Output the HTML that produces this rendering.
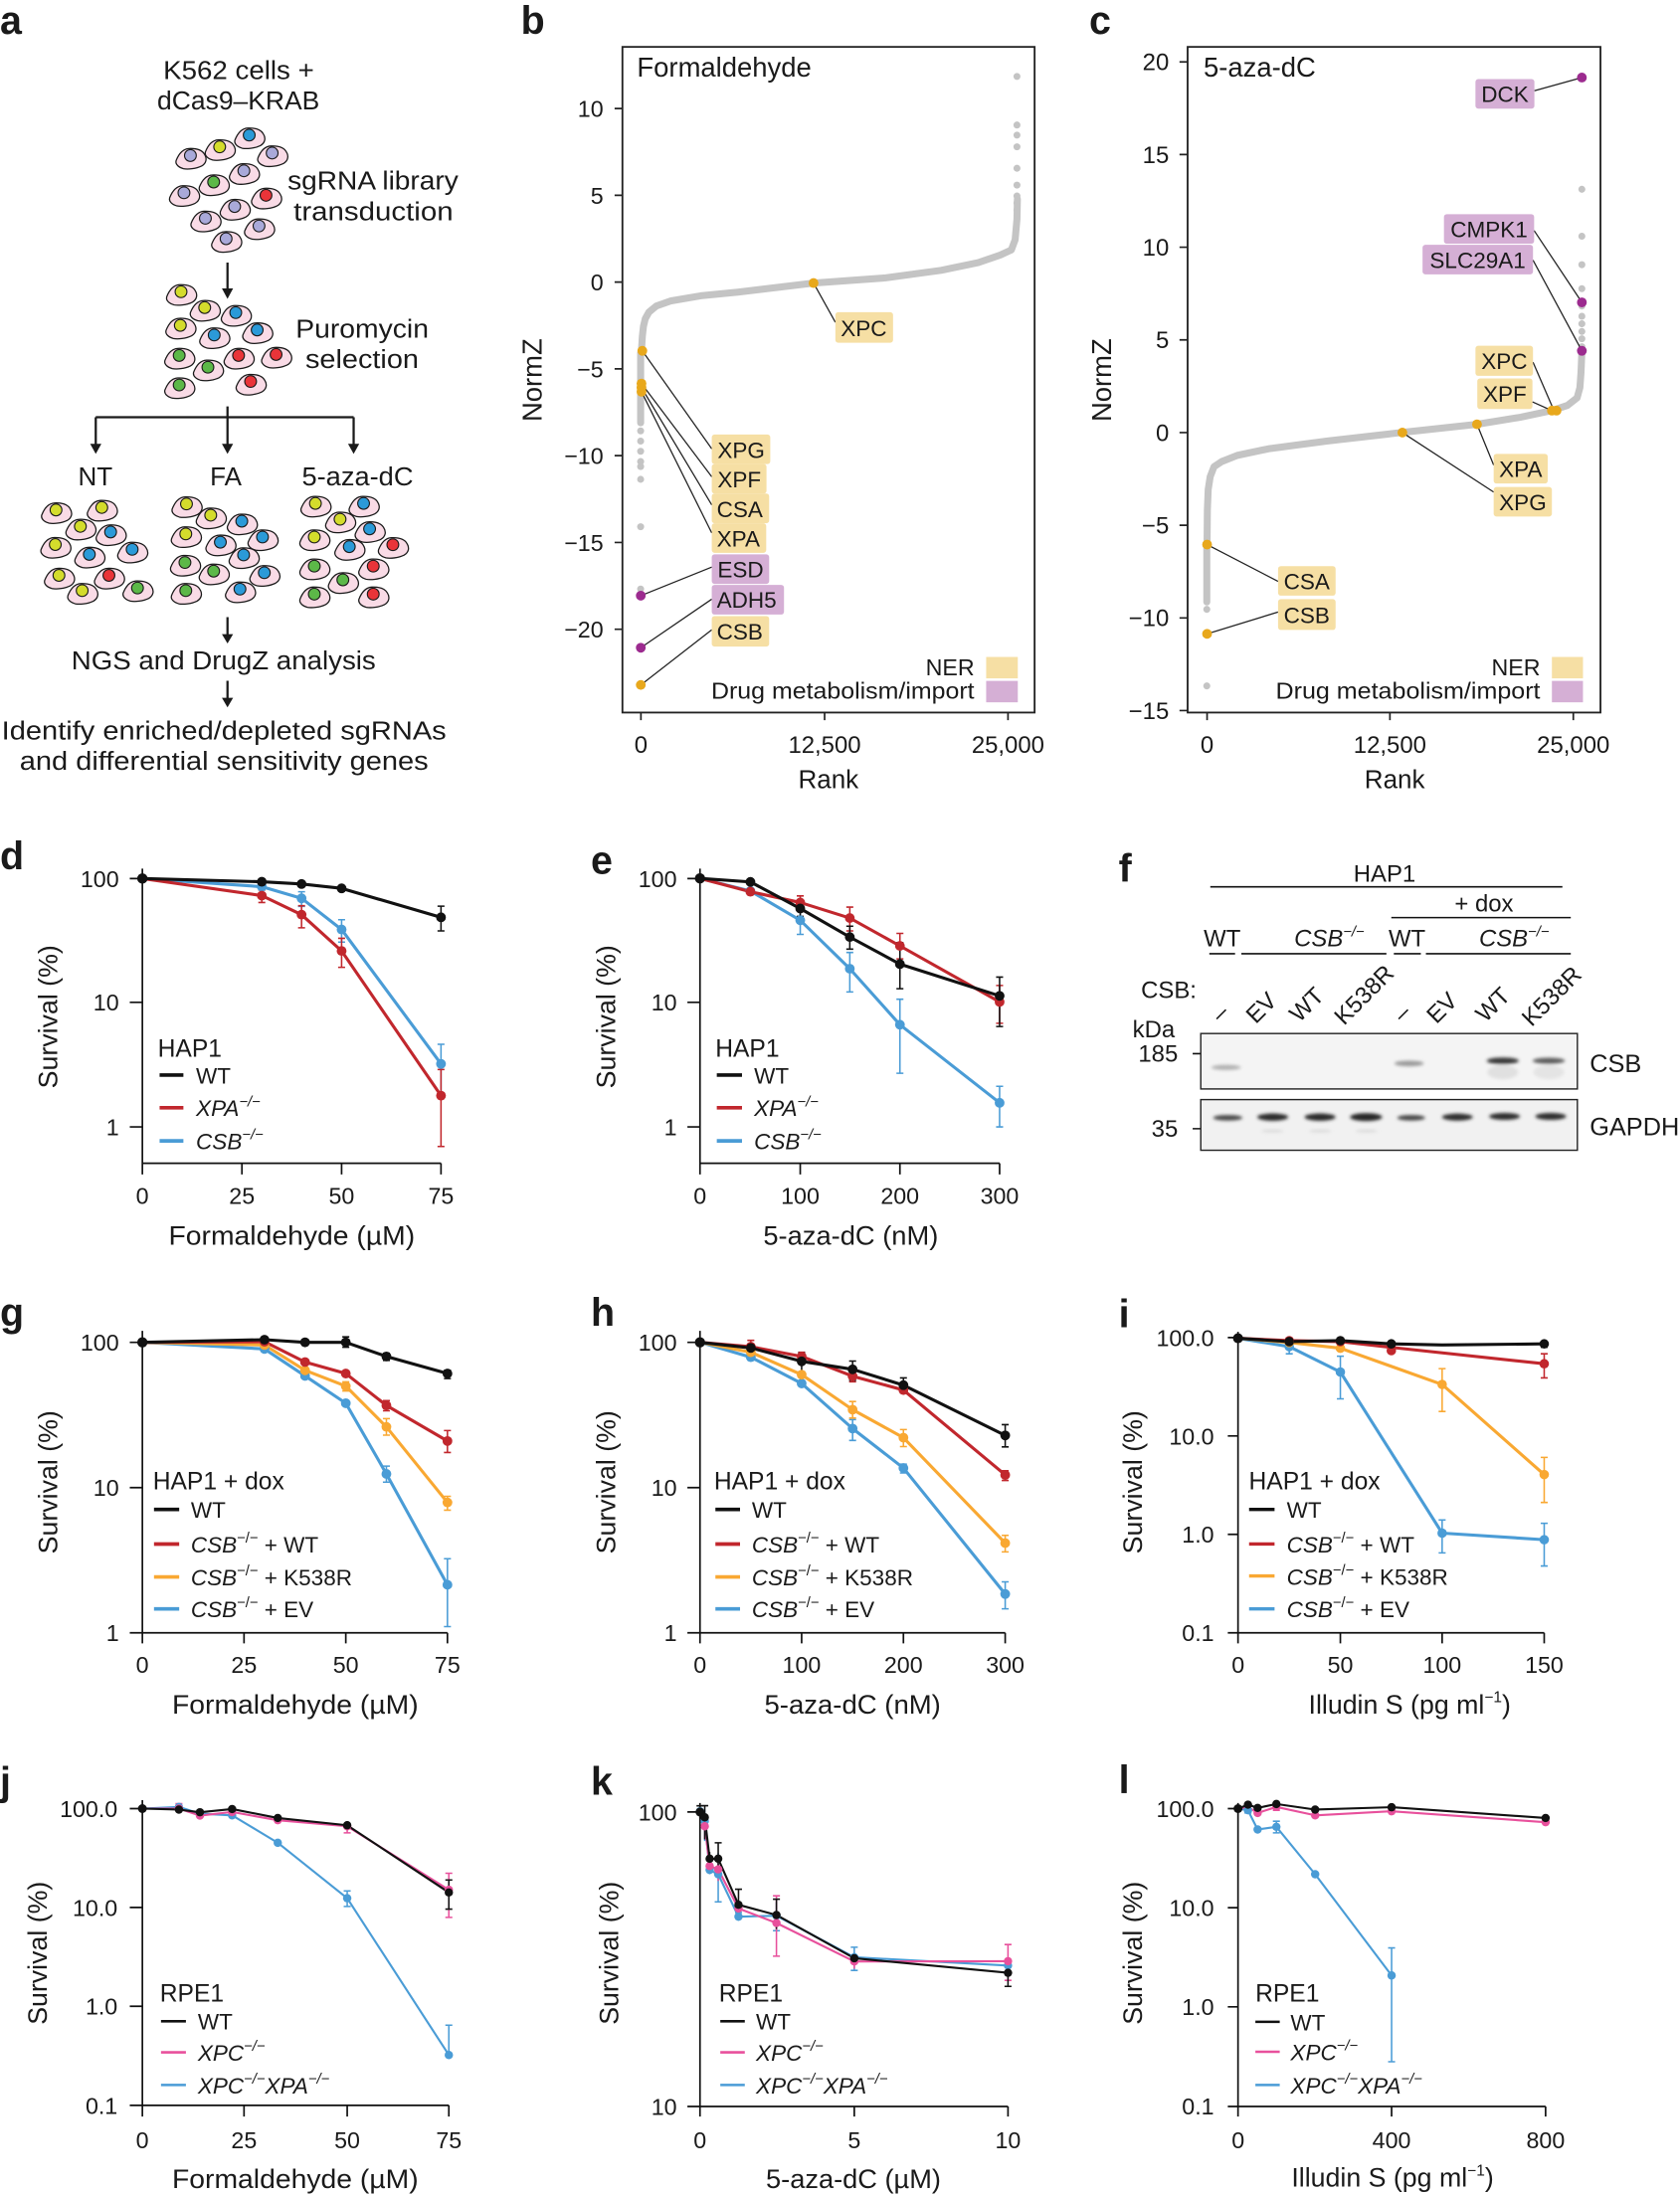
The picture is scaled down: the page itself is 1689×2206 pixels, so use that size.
<!DOCTYPE html>
<html><head><meta charset="utf-8"><style>
html,body{margin:0;padding:0;background:#fff;}
svg{display:block;}
text{font-family:"Liberation Sans",Arial,sans-serif;fill:#1a1a1a;}
.lb{font-weight:bold;font-size:28px;}
.tk{font-size:16.5px;}
.ax{font-size:19px;}
.lg{font-size:16px;}
.lt{font-size:17.5px;}
.it{font-style:italic;}
</style></head><body>
<svg width="1689" height="2206" viewBox="0 0 1200 1567.3" xmlns="http://www.w3.org/2000/svg">
<defs>
<path id="cb" d="M -10.2,3.6 C -8,-2 -5,-4.8 -1,-5 C 4,-5.2 8,-4.5 10,-1 C 12,2 11.5,5.5 8,7.5 C 4,9.5 -2,10 -5,9.4 C -8,8.6 -11,6.5 -10.2,3.6 Z" fill="#f9dbe6" stroke="#1a1a1a" stroke-width="0.9"/>
<filter id="bl" x="-50%" y="-200%" width="200%" height="500%"><feGaussianBlur stdDeviation="1.2"/></filter>
</defs>
<rect width="1200" height="1567.3" fill="#fff"/>

<!-- panel letters -->
<text class="lb" x="0" y="24">a</text>
<text class="lb" x="372" y="24">b</text>
<text class="lb" x="778" y="24">c</text>
<text class="lb" x="0" y="621">d</text>
<text class="lb" x="422" y="624">e</text>
<text class="lb" x="799" y="630">f</text>
<text class="lb" x="0" y="947">g</text>
<text class="lb" x="422" y="947">h</text>
<text class="lb" x="799" y="948">i</text>
<text class="lb" x="0" y="1282">j</text>
<text class="lb" x="422" y="1282">k</text>
<text class="lb" x="799" y="1281">l</text>

<!-- ================= PANEL A ================= -->
<g font-size="18.5">
<text x="170.5" y="56.5" text-anchor="middle" textLength="107.7" lengthAdjust="spacingAndGlyphs">K562 cells +</text>
<text x="170.3" y="78.3" text-anchor="middle" textLength="116" lengthAdjust="spacingAndGlyphs">dCas9–KRAB</text>
<text x="205.4" y="135.5" textLength="122" lengthAdjust="spacingAndGlyphs">sgRNA library</text>
<text x="209.7" y="157.4" textLength="114" lengthAdjust="spacingAndGlyphs">transduction</text>
<text x="211.2" y="241.2" textLength="95" lengthAdjust="spacingAndGlyphs">Puromycin</text>
<text x="218.1" y="263" textLength="81" lengthAdjust="spacingAndGlyphs">selection</text>
<text x="68.1" y="346.8" text-anchor="middle">NT</text>
<text x="161.3" y="346.8" text-anchor="middle">FA</text>
<text x="255.4" y="346.8" text-anchor="middle" textLength="79.6" lengthAdjust="spacingAndGlyphs">5-aza-dC</text>
<text x="159.7" y="478" text-anchor="middle" textLength="217.4" lengthAdjust="spacingAndGlyphs">NGS and DrugZ analysis</text>
<text x="160" y="528.2" text-anchor="middle" textLength="317.6" lengthAdjust="spacingAndGlyphs">Identify enriched/depleted sgRNAs</text>
<text x="160" y="550" text-anchor="middle" textLength="292" lengthAdjust="spacingAndGlyphs">and differential sensitivity genes</text>
</g>
<g stroke="#1a1a1a" stroke-width="1.6" fill="none">
<path d="M162.5 187.6 V207 M162.5 290.3 V298 M68.4 298 H252.6 M68.4 298 V318 M162.5 298 V318 M252.6 298 V318 M162.5 440.8 V454 M162.5 486.3 V499.5"/>
</g>
<g fill="#1a1a1a">
<path d="M158.5 206 H166.5 L162.5 213.5 Z"/>
<path d="M64.4 317 H72.4 L68.4 324.2 Z"/>
<path d="M158.5 317 H166.5 L162.5 324.2 Z"/>
<path d="M248.6 317 H256.6 L252.6 324.2 Z"/>
<path d="M158.5 453 H166.5 L162.5 459.7 Z"/>
<path d="M158.5 498.5 H166.5 L162.5 505.3 Z"/>
</g>
<g stroke="#1a1a1a" stroke-width="0.8">
<!-- cluster 1 -->
<use href="#cb" x="178" y="96.5"/><circle cx="178" cy="96.5" r="4.2" fill="#2b9ad8"/>
<use href="#cb" x="156.9" y="104.9"/><circle cx="156.9" cy="104.9" r="4.2" fill="#d4dc2c"/>
<use href="#cb" x="136" y="111.1"/><circle cx="136" cy="111.1" r="4.2" fill="#a9a9d9"/>
<use href="#cb" x="194.4" y="109.3"/><circle cx="194.4" cy="109.3" r="4.2" fill="#a9a9d9"/>
<use href="#cb" x="174.2" y="122"/><circle cx="174.2" cy="122" r="4.2" fill="#a9a9d9"/>
<use href="#cb" x="152.6" y="130"/><circle cx="152.6" cy="130" r="4.2" fill="#5cb848"/>
<use href="#cb" x="131.4" y="137.7"/><circle cx="131.4" cy="137.7" r="4.2" fill="#a9a9d9"/>
<use href="#cb" x="190" y="139.5"/><circle cx="190" cy="139.5" r="4.2" fill="#e93439"/>
<use href="#cb" x="167.6" y="147.5"/><circle cx="167.6" cy="147.5" r="4.2" fill="#a9a9d9"/>
<use href="#cb" x="146.7" y="155.9"/><circle cx="146.7" cy="155.9" r="4.2" fill="#a9a9d9"/>
<use href="#cb" x="185" y="161.4"/><circle cx="185" cy="161.4" r="4.2" fill="#a9a9d9"/>
<use href="#cb" x="161.5" y="170.5"/><circle cx="161.5" cy="170.5" r="4.2" fill="#a9a9d9"/>
<!-- cluster 2 -->
<use href="#cb" x="129.3" y="208.4"/><circle cx="129.3" cy="208.4" r="4.2" fill="#d4dc2c"/>
<use href="#cb" x="146.2" y="219.7"/><circle cx="146.2" cy="219.7" r="4.2" fill="#d4dc2c"/>
<use href="#cb" x="168.4" y="223.3"/><circle cx="168.4" cy="223.3" r="4.2" fill="#2b9ad8"/>
<use href="#cb" x="128.8" y="232.4"/><circle cx="128.8" cy="232.4" r="4.2" fill="#d4dc2c"/>
<use href="#cb" x="153" y="239.3"/><circle cx="153" cy="239.3" r="4.2" fill="#2b9ad8"/>
<use href="#cb" x="183.7" y="235.7"/><circle cx="183.7" cy="235.7" r="4.2" fill="#2b9ad8"/>
<use href="#cb" x="128" y="253.9"/><circle cx="128" cy="253.9" r="4.2" fill="#5cb848"/>
<use href="#cb" x="170.4" y="253.9"/><circle cx="170.4" cy="253.9" r="4.2" fill="#e93439"/>
<use href="#cb" x="197.2" y="253.2"/><circle cx="197.2" cy="253.2" r="4.2" fill="#e93439"/>
<use href="#cb" x="148.5" y="262.3"/><circle cx="148.5" cy="262.3" r="4.2" fill="#5cb848"/>
<use href="#cb" x="128" y="275"/><circle cx="128" cy="275" r="4.2" fill="#5cb848"/>
<use href="#cb" x="179" y="272.5"/><circle cx="179" cy="272.5" r="4.2" fill="#e93439"/>
<!-- NT -->
<use href="#cb" x="40" y="364.3"/><circle cx="40" cy="364.3" r="4.2" fill="#d4dc2c"/>
<use href="#cb" x="72.7" y="362.5"/><circle cx="72.7" cy="362.5" r="4.2" fill="#d4dc2c"/>
<use href="#cb" x="57.4" y="376"/><circle cx="57.4" cy="376" r="4.2" fill="#d4dc2c"/>
<use href="#cb" x="79" y="380"/><circle cx="79" cy="380" r="4.2" fill="#2b9ad8"/>
<use href="#cb" x="39.5" y="389"/><circle cx="39.5" cy="389" r="4.2" fill="#d4dc2c"/>
<use href="#cb" x="63.8" y="396"/><circle cx="63.8" cy="396" r="4.2" fill="#2b9ad8"/>
<use href="#cb" x="94.4" y="392.4"/><circle cx="94.4" cy="392.4" r="4.2" fill="#2b9ad8"/>
<use href="#cb" x="42.1" y="411"/><circle cx="42.1" cy="411" r="4.2" fill="#d4dc2c"/>
<use href="#cb" x="77.8" y="411"/><circle cx="77.8" cy="411" r="4.2" fill="#e93439"/>
<use href="#cb" x="58.7" y="421.9"/><circle cx="58.7" cy="421.9" r="4.2" fill="#d4dc2c"/>
<use href="#cb" x="98.2" y="420"/><circle cx="98.2" cy="420" r="4.2" fill="#5cb848"/>
<!-- FA -->
<use href="#cb" x="133.2" y="360"/><circle cx="133.2" cy="360" r="4.2" fill="#d4dc2c"/>
<use href="#cb" x="150.5" y="368"/><circle cx="150.5" cy="368" r="4.2" fill="#d4dc2c"/>
<use href="#cb" x="172.7" y="372.3"/><circle cx="172.7" cy="372.3" r="4.2" fill="#2b9ad8"/>
<use href="#cb" x="132.7" y="381.4"/><circle cx="132.7" cy="381.4" r="4.2" fill="#d4dc2c"/>
<use href="#cb" x="157.4" y="387.3"/><circle cx="157.4" cy="387.3" r="4.2" fill="#2b9ad8"/>
<use href="#cb" x="187.5" y="383.6"/><circle cx="187.5" cy="383.6" r="4.2" fill="#2b9ad8"/>
<use href="#cb" x="174" y="396.4"/><circle cx="174" cy="396.4" r="4.2" fill="#2b9ad8"/>
<use href="#cb" x="132.1" y="401.8"/><circle cx="132.1" cy="401.8" r="4.2" fill="#5cb848"/>
<use href="#cb" x="152.6" y="408"/><circle cx="152.6" cy="408" r="4.2" fill="#5cb848"/>
<use href="#cb" x="188.8" y="409.1"/><circle cx="188.8" cy="409.1" r="4.2" fill="#2b9ad8"/>
<use href="#cb" x="132.7" y="421.9"/><circle cx="132.7" cy="421.9" r="4.2" fill="#5cb848"/>
<use href="#cb" x="171.4" y="420.8"/><circle cx="171.4" cy="420.8" r="4.2" fill="#2b9ad8"/>
<!-- 5-aza-dC -->
<use href="#cb" x="225.3" y="359.6"/><circle cx="225.3" cy="359.6" r="4.2" fill="#d4dc2c"/>
<use href="#cb" x="259.7" y="359.6"/><circle cx="259.7" cy="359.6" r="4.2" fill="#2b9ad8"/>
<use href="#cb" x="242.9" y="370.9"/><circle cx="242.9" cy="370.9" r="4.2" fill="#d4dc2c"/>
<use href="#cb" x="264" y="377.8"/><circle cx="264" cy="377.8" r="4.2" fill="#2b9ad8"/>
<use href="#cb" x="224.5" y="383.6"/><circle cx="224.5" cy="383.6" r="4.2" fill="#d4dc2c"/>
<use href="#cb" x="249.5" y="390.5"/><circle cx="249.5" cy="390.5" r="4.2" fill="#2b9ad8"/>
<use href="#cb" x="280.6" y="389.1"/><circle cx="280.6" cy="389.1" r="4.2" fill="#e93439"/>
<use href="#cb" x="224.5" y="404.4"/><circle cx="224.5" cy="404.4" r="4.2" fill="#5cb848"/>
<use href="#cb" x="266.6" y="404.4"/><circle cx="266.6" cy="404.4" r="4.2" fill="#e93439"/>
<use href="#cb" x="244.9" y="414.2"/><circle cx="244.9" cy="414.2" r="4.2" fill="#5cb848"/>
<use href="#cb" x="224.5" y="424.4"/><circle cx="224.5" cy="424.4" r="4.2" fill="#5cb848"/>
<use href="#cb" x="266.6" y="424.4"/><circle cx="266.6" cy="424.4" r="4.2" fill="#e93439"/>
</g>

<!-- ================= PANEL B ================= -->
<rect x="444.6" y="33.5" width="294.4" height="475.5" fill="none" stroke="#222" stroke-width="1.3"/>
<path d="M439 77.5H444.6M439 139.5H444.6M439 201.5H444.6M439 263.5H444.6M439 325.5H444.6M439 387.5H444.6M439 449.5H444.6M457.8 509V514.5M589 509V514.5M720 509V514.5" stroke="#222" stroke-width="1.2"/>
<g class="tk" text-anchor="end" font-size="17">
<text x="431" y="83.5">10</text><text x="431" y="145.5">5</text><text x="431" y="207.5">0</text>
<text x="431" y="269.5">−5</text><text x="431" y="331.5">−10</text><text x="431" y="393.5">−15</text><text x="431" y="455.5">−20</text>
</g>
<g text-anchor="middle" font-size="17">
<text x="457.8" y="538">0</text><text x="589" y="538">12,500</text><text x="720" y="538">25,000</text>
</g>
<text x="591.7" y="563" text-anchor="middle" font-size="18.5">Rank</text>
<text transform="translate(387,271.5) rotate(-90)" text-anchor="middle" font-size="19.5">NormZ</text>
<text x="455" y="54.6" font-size="19.5">Formaldehyde</text>
<polyline points="458.2,250.6 458.8,240.4 459.6,233.2 460.9,227.7 463.5,223 468.8,218.6 479.4,214.9 500.5,211.3 527,208.7 581.1,202.2 632.6,198.5 672.2,193.1 698.7,187.6 714.5,182.2 722.4,178.5 725.1,171.2 726.4,156.6 726.7,142.1" fill="none" stroke="#c4c4c4" stroke-width="5" stroke-linecap="round" stroke-linejoin="round"/>
<line x1="457.6" y1="252" x2="457.6" y2="302" stroke="#c4c4c4" stroke-width="5" stroke-linecap="round"/>
<g fill="#c4c4c4">
<circle cx="457.6" cy="307.8" r="2.5"/><circle cx="457.6" cy="315.1" r="2.5"/><circle cx="457.6" cy="322.4" r="2.5"/><circle cx="457.6" cy="329.7" r="2.5"/><circle cx="457.6" cy="333.3" r="2.5"/><circle cx="457.6" cy="342.4" r="2.5"/><circle cx="457.6" cy="376.3" r="2.5"/><circle cx="457.6" cy="420.8" r="2.5"/>
<circle cx="726.4" cy="54.6" r="2.5"/><circle cx="726.4" cy="89.3" r="2.5"/><circle cx="726.4" cy="96.5" r="2.5"/><circle cx="726.4" cy="104.9" r="2.5"/><circle cx="726.4" cy="120.2" r="2.5"/><circle cx="726.4" cy="132.2" r="2.5"/><circle cx="726.4" cy="140" r="2.5"/><circle cx="726.4" cy="145" r="2.5"/><circle cx="726.4" cy="150" r="2.5"/>
</g>
<g stroke="#222" stroke-width="0.9">
<line x1="458.8" y1="250.6" x2="508.4" y2="320.6"/>
<line x1="458.2" y1="274" x2="508.4" y2="340.6"/>
<line x1="458.2" y1="276.9" x2="508.4" y2="360.7"/>
<line x1="458.2" y1="279.8" x2="508.4" y2="380.7"/>
<line x1="457.7" y1="425.5" x2="508.4" y2="405.1"/>
<line x1="457.7" y1="462.7" x2="508.4" y2="428"/>
<line x1="457.7" y1="489.3" x2="508.4" y2="449.9"/>
<line x1="581.1" y1="202.2" x2="596.7" y2="230.2"/>
</g>
<g fill="#e8a81c"><circle cx="458.8" cy="250.6" r="3.5"/><circle cx="458.2" cy="274" r="3.5"/><circle cx="458.2" cy="276.9" r="3.5"/><circle cx="458.2" cy="279.8" r="3.5"/><circle cx="457.7" cy="489.3" r="3.5"/><circle cx="581.1" cy="202.2" r="3.5"/></g>
<g fill="#9c2b8f"><circle cx="457.7" cy="425.5" r="3.5"/><circle cx="457.7" cy="462.7" r="3.5"/></g>
<g fill="#f6dfa4">
<rect x="596.7" y="223" width="41.2" height="21.8" rx="2"/>
<rect x="508.4" y="310.4" width="41.8" height="21.1" rx="2"/>
<rect x="508.4" y="331.5" width="39.1" height="21.1" rx="2"/>
<rect x="508.4" y="352.6" width="41" height="21.2" rx="2"/>
<rect x="508.4" y="373.8" width="38.9" height="21.1" rx="2"/>
<rect x="508.4" y="440.1" width="41" height="21.8" rx="2"/>
</g>
<g fill="#d5afd5">
<rect x="508.4" y="396" width="41" height="21.1" rx="2"/>
<rect x="508.4" y="417.8" width="51.6" height="21.2" rx="2"/>
</g>
<g font-size="16">
<text x="600.5" y="240">XPC</text>
<text x="512.5" y="327">XPG</text>
<text x="512.5" y="348">XPF</text>
<text x="512" y="369.5">CSA</text>
<text x="512" y="390.5">XPA</text>
<text x="512.5" y="412.5">ESD</text>
<text x="512" y="434">ADH5</text>
<text x="512" y="457">CSB</text>
</g>
<rect x="704.4" y="469.3" width="22.6" height="15.3" fill="#f6dfa4"/>
<rect x="704.4" y="486.4" width="22.6" height="15.3" fill="#d5afd5"/>
<text x="696" y="482.5" text-anchor="end" font-size="16.5">NER</text>
<text x="696" y="499" text-anchor="end" font-size="16.5" textLength="188" lengthAdjust="spacingAndGlyphs">Drug metabolism/import</text>

<!-- ================= PANEL C ================= -->
<rect x="848.3" y="33.5" width="294.9" height="475.5" fill="none" stroke="#222" stroke-width="1.3"/>
<path d="M842.5 44.2H848.3M842.5 110.4H848.3M842.5 176.6H848.3M842.5 242.8H848.3M842.5 309H848.3M842.5 375.2H848.3M842.5 441.4H848.3M842.5 507.6H848.3M862.2 509V514.5M992.8 509V514.5M1123.8 509V514.5" stroke="#222" stroke-width="1.2"/>
<g text-anchor="end" font-size="17">
<text x="835" y="50.2">20</text><text x="835" y="116.4">15</text><text x="835" y="182.6">10</text><text x="835" y="248.8">5</text>
<text x="835" y="315">0</text><text x="835" y="381.2">−5</text><text x="835" y="447.4">−10</text><text x="835" y="513.6">−15</text>
</g>
<g text-anchor="middle" font-size="17">
<text x="862.2" y="538">0</text><text x="992.8" y="538">12,500</text><text x="1123.8" y="538">25,000</text>
</g>
<text x="996.2" y="563" text-anchor="middle" font-size="18.5">Rank</text>
<text transform="translate(793.5,271.5) rotate(-90)" text-anchor="middle" font-size="19.5">NormZ</text>
<text x="859.7" y="54.6" font-size="19.5">5-aza-dC</text>
<polyline points="862.2,386.2 862.4,364.3 863,349.7 864.4,340.6 867.2,333.3 872.7,329.7 883.8,325.3 906,320.6 947.6,315.1 1001.7,308.9 1055,303.1 1086.3,298 1108.5,293.3 1119.6,289.6 1126.5,284.2 1128.5,276.9 1129.3,265.9 1129.9,251.4" fill="none" stroke="#c4c4c4" stroke-width="5" stroke-linecap="round" stroke-linejoin="round"/>
<line x1="862" y1="391.6" x2="862" y2="430" stroke="#c4c4c4" stroke-width="5" stroke-linecap="round"/>
<g fill="#c4c4c4">
<circle cx="862" cy="435.3" r="2.5"/><circle cx="862" cy="490" r="2.5"/>
<circle cx="1129.9" cy="135.2" r="2.5"/><circle cx="1129.9" cy="168.7" r="2.5"/><circle cx="1129.9" cy="189.1" r="2.5"/><circle cx="1129.9" cy="206.2" r="2.5"/><circle cx="1129.9" cy="218.6" r="2.5"/><circle cx="1129.9" cy="225.9" r="2.5"/><circle cx="1129.9" cy="231.3" r="2.5"/><circle cx="1129.9" cy="236.8" r="2.5"/><circle cx="1129.9" cy="242" r="2.5"/><circle cx="1129.9" cy="247.7" r="2.5"/>
</g>
<g stroke="#222" stroke-width="0.9">
<line x1="1096" y1="64.8" x2="1129.9" y2="55.4"/>
<line x1="1095.8" y1="164.7" x2="1129.9" y2="216"/>
<line x1="1095" y1="185.8" x2="1129.9" y2="250.6"/>
<line x1="1095" y1="258.7" x2="1110" y2="293.3"/>
<line x1="1094.6" y1="287.1" x2="1108.5" y2="293.3"/>
<line x1="1055" y1="303.1" x2="1066.9" y2="332.2"/>
<line x1="1001.7" y1="309" x2="1066.9" y2="351.5"/>
<line x1="862.2" y1="389" x2="912.9" y2="415.3"/>
<line x1="862.2" y1="452.8" x2="912.9" y2="437.2"/>
</g>
<g fill="#9c2b8f"><circle cx="1129.9" cy="55.4" r="3.5"/><circle cx="1129.9" cy="216" r="3.5"/><circle cx="1129.9" cy="250.6" r="3.5"/></g>
<g fill="#e8a81c"><circle cx="1108.5" cy="293.3" r="3.5"/><circle cx="1111.8" cy="293.3" r="3.5"/><circle cx="1055" cy="303.1" r="3.5"/><circle cx="1001.7" cy="309" r="3.5"/><circle cx="862.2" cy="389" r="3.5"/><circle cx="862.2" cy="452.8" r="3.5"/></g>
<g fill="#d5afd5">
<rect x="1053.9" y="56.5" width="42.1" height="21.1" rx="2"/>
<rect x="1031.4" y="153" width="64.4" height="21.1" rx="2"/>
<rect x="1016.1" y="174.9" width="78.9" height="21.1" rx="2"/>
</g>
<g fill="#f6dfa4">
<rect x="1053.9" y="247" width="41.1" height="21.5" rx="2"/>
<rect x="1055.2" y="270.3" width="39.4" height="21.9" rx="2"/>
<rect x="1066.9" y="324.2" width="38.6" height="21.2" rx="2"/>
<rect x="1066.9" y="347.9" width="41.6" height="21.1" rx="2"/>
<rect x="912.9" y="404.4" width="41.1" height="21.1" rx="2"/>
<rect x="912.9" y="428" width="41.1" height="22" rx="2"/>
</g>
<g font-size="16" text-anchor="middle">
<text x="1075" y="73">DCK</text>
<text x="1063.6" y="169.5">CMPK1</text>
<text x="1055.5" y="191.5">SLC29A1</text>
<text x="1074.5" y="263.5">XPC</text>
<text x="1074.9" y="287">XPF</text>
<text x="1086.2" y="340.5">XPA</text>
<text x="1087.7" y="364.5">XPG</text>
<text x="933.4" y="421">CSA</text>
<text x="933.4" y="445">CSB</text>
</g>
<rect x="1108.5" y="469.3" width="22.2" height="15.3" fill="#f6dfa4"/>
<rect x="1108.5" y="486.4" width="22.2" height="15.3" fill="#d5afd5"/>
<text x="1100.2" y="482.5" text-anchor="end" font-size="16.5">NER</text>
<text x="1100.2" y="499" text-anchor="end" font-size="16.5" textLength="189" lengthAdjust="spacingAndGlyphs">Drug metabolism/import</text>

<!-- ================= PANEL D ================= -->
<path d="M101.7 620.5V839M101.7 831H315M172.8 831V839M244 831V839M315 831V839M92.7 627.6H101.7M92.7 716H101.7M92.7 805H101.7" stroke="#111" stroke-width="1.2" fill="none"/>
<g text-anchor="end" class="tk"><text x="85" y="633.6">100</text><text x="85" y="722">10</text><text x="85" y="811">1</text></g>
<g text-anchor="middle" class="tk"><text x="101.7" y="860">0</text><text x="172.8" y="860">25</text><text x="244" y="860">50</text><text x="315" y="860">75</text></g>
<text class="ax" transform="translate(41,726.3) rotate(-90)" text-anchor="middle">Survival (%)</text>
<text class="ax" x="208.4" y="889" text-anchor="middle" textLength="176" lengthAdjust="spacingAndGlyphs">Formaldehyde (µM)</text>
<g fill="none" stroke-width="2.2" stroke-linejoin="round">
<polyline stroke="#4a9cd6" points="101.7,627.6 187,633.4 215.4,641.7 244,664 315,760"/>
<polyline stroke="#c1272d" points="101.7,627.6 187,639.8 215.4,653.4 244,679.3 315,782.7"/>
<polyline stroke="#111" points="101.7,627.6 187,629.9 215.4,631.5 244,634.6 315,655.3"/>
</g>
<g fill="none" stroke-width="1.1">
<path stroke="#4a9cd6" d="M215.4 637V647.5M212.9 637h5M212.9 647.5h5M244 657V673M241.5 657h5M241.5 673h5M315 746V782.7M312.5 746h5M312.5 782.7h5"/>
<path stroke="#c1272d" d="M187 635.8V644.7M184.5 635.8h5M184.5 644.7h5M215.4 647V662.8M212.9 647h5M212.9 662.8h5M244 670.3V691M241.5 670.3h5M241.5 691h5M315 764V819M312.5 764h5M312.5 819h5"/>
<path stroke="#111" d="M315 647.3V665M312.5 647.3h5M312.5 665h5"/>
</g>
<g fill="#4a9cd6"><circle cx="187" cy="633.4" r="3.5"/><circle cx="215.4" cy="641.7" r="3.5"/><circle cx="244" cy="664" r="3.5"/><circle cx="315" cy="760" r="3.5"/></g>
<g fill="#c1272d"><circle cx="187" cy="639.8" r="3.5"/><circle cx="215.4" cy="653.4" r="3.5"/><circle cx="244" cy="679.3" r="3.5"/><circle cx="315" cy="782.7" r="3.5"/></g>
<g fill="#111"><circle cx="101.7" cy="627.6" r="3.7"/><circle cx="187" cy="629.9" r="3.5"/><circle cx="215.4" cy="631.5" r="3.5"/><circle cx="244" cy="634.6" r="3.5"/><circle cx="315" cy="655.3" r="3.5"/></g>
<text class="lt" x="112.7" y="755">HAP1</text>
<line x1="114" x2="131" y1="768" y2="768" stroke="#111" stroke-width="2.6"/>
<line x1="114" x2="131" y1="791.3" y2="791.3" stroke="#c1272d" stroke-width="2.6"/>
<line x1="114" x2="131" y1="815" y2="815" stroke="#4a9cd6" stroke-width="2.6"/>
<text class="lg" x="140" y="774">WT</text>
<text class="lg it" x="140" y="797.3">XPA<tspan font-size="10.5" dy="-7">−/−</tspan></text>
<text class="lg it" x="140" y="821">CSB<tspan font-size="10.5" dy="-7">−/−</tspan></text>

<!-- ================= PANEL E ================= -->
<path d="M500 620.5V839M500 831H714M571.6 831V839M642.8 831V839M714 831V839M491 627.6H500M491 716H500M491 805H500" stroke="#111" stroke-width="1.2" fill="none"/>
<g text-anchor="end" class="tk"><text x="483.5" y="633.6">100</text><text x="483.5" y="722">10</text><text x="483.5" y="811">1</text></g>
<g text-anchor="middle" class="tk"><text x="500" y="860">0</text><text x="571.6" y="860">100</text><text x="642.8" y="860">200</text><text x="714" y="860">300</text></g>
<text class="ax" transform="translate(439.5,726.3) rotate(-90)" text-anchor="middle">Survival (%)</text>
<text class="ax" x="607.7" y="889" text-anchor="middle" textLength="125" lengthAdjust="spacingAndGlyphs">5-aza-dC (nM)</text>
<g fill="none" stroke-width="2.2" stroke-linejoin="round">
<polyline stroke="#4a9cd6" points="500,627.5 536,636.5 571.6,657.4 607,692 642.8,732 714,787.8"/>
<polyline stroke="#c1272d" points="500,627.5 536,637 571.6,644.7 607,655.8 642.8,675.7 714,715.7"/>
<polyline stroke="#111" points="500,627.5 536,630 571.6,649 607,669.4 642.8,688.7 714,711.4"/>
</g>
<g fill="none" stroke-width="1.1">
<path stroke="#4a9cd6" d="M571.6 648.7V667.5M569.1 648.7h5M569.1 667.5h5M607 680.4V708.6M604.5 680.4h5M604.5 708.6h5M642.8 713.8V766.7M640.3 713.8h5M640.3 766.7h5M714 776V805M711.5 776h5M711.5 805h5"/>
<path stroke="#c1272d" d="M571.6 640V651M569.1 640h5M569.1 651h5M607 648V665M604.5 648h5M604.5 665h5M642.8 666.8V685M640.3 666.8h5M640.3 685h5M714 704V731M711.5 704h5M711.5 731h5"/>
<path stroke="#111" d="M571.6 643V654.6M569.1 643h5M569.1 654.6h5M607 661.6V678M604.5 661.6h5M604.5 678h5M642.8 673.4V706.3M640.3 673.4h5M640.3 706.3h5M714 698V733.3M711.5 698h5M711.5 733.3h5"/>
</g>
<g fill="#4a9cd6"><circle cx="536" cy="636.5" r="3.5"/><circle cx="571.6" cy="657.4" r="3.5"/><circle cx="607" cy="692" r="3.5"/><circle cx="642.8" cy="732" r="3.5"/><circle cx="714" cy="787.8" r="3.5"/></g>
<g fill="#c1272d"><circle cx="536" cy="637" r="3.5"/><circle cx="571.6" cy="644.7" r="3.5"/><circle cx="607" cy="655.8" r="3.5"/><circle cx="642.8" cy="675.7" r="3.5"/><circle cx="714" cy="715.7" r="3.5"/></g>
<g fill="#111"><circle cx="500" cy="627.5" r="3.7"/><circle cx="536" cy="630" r="3.5"/><circle cx="571.6" cy="649" r="3.5"/><circle cx="607" cy="669.4" r="3.5"/><circle cx="642.8" cy="688.7" r="3.5"/><circle cx="714" cy="711.4" r="3.5"/></g>
<text class="lt" x="511" y="755">HAP1</text>
<line x1="512" x2="530" y1="768" y2="768" stroke="#111" stroke-width="2.6"/>
<line x1="512" x2="530" y1="791.3" y2="791.3" stroke="#c1272d" stroke-width="2.6"/>
<line x1="512" x2="530" y1="815" y2="815" stroke="#4a9cd6" stroke-width="2.6"/>
<text class="lg" x="538.6" y="774">WT</text>
<text class="lg it" x="538.6" y="797.3">XPA<tspan font-size="10.5" dy="-7">−/−</tspan></text>
<text class="lg it" x="538.6" y="821">CSB<tspan font-size="10.5" dy="-7">−/−</tspan></text>

<!-- ================= PANEL F ================= -->
<g font-size="17">
<text x="989" y="630" text-anchor="middle">HAP1</text>
<text x="1060" y="651" text-anchor="middle">+ dox</text>
<text x="873" y="676" text-anchor="middle">WT</text>
<text x="949.5" y="676" text-anchor="middle" class="it">CSB<tspan font-size="10.5" dy="-7">−/−</tspan></text>
<text x="1005" y="676" text-anchor="middle">WT</text>
<text x="1081.5" y="676" text-anchor="middle" class="it">CSB<tspan font-size="10.5" dy="-7">−/−</tspan></text>
<text x="815" y="713">CSB:</text>
<text x="809" y="741">kDa</text>
<text x="841.4" y="758.5" text-anchor="end">185</text>
<text x="841.4" y="812" text-anchor="end">35</text>
<text x="1135.5" y="766" font-size="18">CSB</text>
<text x="1135.5" y="811" font-size="18">GAPDH</text>
<text transform="translate(872,731) rotate(-45)">–</text>
<text transform="translate(897,732) rotate(-45)">EV</text>
<text transform="translate(928,731) rotate(-45)">WT</text>
<text transform="translate(960,733) rotate(-45)">K538R</text>
<text transform="translate(1002,731) rotate(-45)">–</text>
<text transform="translate(1026,732) rotate(-45)">EV</text>
<text transform="translate(1061,731) rotate(-45)">WT</text>
<text transform="translate(1094,734) rotate(-45)">K538R</text>
</g>
<path d="M864.5 633.5H1116M993.8 655.5H1122M863.8 681.3H882.2M886.7 681.3H990.3M995.6 681.3H1014.9M1018.5 681.3H1122M851.9 752.7H857.7M851.9 806.3H857.7" stroke="#111" stroke-width="1.1"/>
<rect x="857.7" y="738.3" width="269" height="39.6" fill="#f4f4f4" stroke="#222" stroke-width="1"/>
<rect x="857.7" y="785.5" width="269" height="36.2" fill="#f1f1f1" stroke="#222" stroke-width="1"/>
<g filter="url(#bl)">
<ellipse cx="875.8" cy="762.5" rx="10.5" ry="1.8" fill="#b0b0b0"/>
<ellipse cx="1006.5" cy="759.7" rx="10.5" ry="2" fill="#9a9a9a"/>
<ellipse cx="1073.4" cy="766" rx="11" ry="5" fill="#e0e0e0"/>
<ellipse cx="1106.3" cy="766" rx="11" ry="5" fill="#e4e4e4"/>
<ellipse cx="1073.4" cy="757.8" rx="11.5" ry="2.4" fill="#3a3a3a"/>
<ellipse cx="1106.3" cy="757.8" rx="11.5" ry="2.2" fill="#5e5e5e"/>
<ellipse cx="877" cy="798.5" rx="10.5" ry="2" fill="#4a4a4a"/>
<ellipse cx="909.1" cy="798" rx="11" ry="2.6" fill="#2a2a2a"/>
<ellipse cx="942.9" cy="798" rx="11" ry="2.6" fill="#2a2a2a"/>
<ellipse cx="975.8" cy="798" rx="11.5" ry="2.8" fill="#262626"/>
<ellipse cx="1008" cy="798.5" rx="10" ry="2" fill="#4a4a4a"/>
<ellipse cx="1041" cy="798" rx="11" ry="2.5" fill="#2e2e2e"/>
<ellipse cx="1074.7" cy="797.5" rx="11" ry="2.5" fill="#2e2e2e"/>
<ellipse cx="1107.7" cy="797.5" rx="11" ry="2.5" fill="#2e2e2e"/>
<ellipse cx="909" cy="808" rx="8" ry="1" fill="#d8d8d8"/>
<ellipse cx="943" cy="808" rx="8" ry="1" fill="#d8d8d8"/>
<ellipse cx="976" cy="808" rx="8" ry="1" fill="#d8d8d8"/>
</g>

<!-- ================= PANEL G ================= -->
<path d="M101.7 950.7V1174M92.7 1166.4H319.6M174.3 1166.4V1174M247 1166.4V1174M319.6 1166.4V1174M92.7 958.9H101.7M92.7 1062.7H101.7" stroke="#111" stroke-width="1.2" fill="none"/>
<g text-anchor="end" class="tk"><text x="85" y="964.9">100</text><text x="85" y="1068.7">10</text><text x="85" y="1172.4">1</text></g>
<g text-anchor="middle" class="tk"><text x="101.7" y="1195">0</text><text x="174.3" y="1195">25</text><text x="247" y="1195">50</text><text x="319.6" y="1195">75</text></g>
<text class="ax" transform="translate(41,1058.8) rotate(-90)" text-anchor="middle">Survival (%)</text>
<text class="ax" x="210.9" y="1224" text-anchor="middle" textLength="176" lengthAdjust="spacingAndGlyphs">Formaldehyde (µM)</text>
<g fill="none" stroke-width="2.2" stroke-linejoin="round">
<polyline stroke="#4a9cd6" points="101.7,958.9 188.9,963.6 217.9,982.9 247,1002.4 276,1052.9 319.6,1132.1"/>
<polyline stroke="#f9a832" points="101.7,958.9 188.9,960.8 217.9,978.9 247,990.2 276,1019.3 319.6,1073.3"/>
<polyline stroke="#c1272d" points="101.7,958.9 188.9,958.4 217.9,973 247,981.2 276,1004 319.6,1029.4"/>
<polyline stroke="#111" points="101.7,958.9 188.9,957 217.9,958.9 247,958.9 276,969 319.6,981.2"/>
</g>
<g fill="none" stroke-width="1.1">
<path stroke="#4a9cd6" d="M276 1047.3V1058.8M273.5 1047.3h5M273.5 1058.8h5M319.6 1113.5V1162M317.1 1113.5h5M317.1 1162h5"/>
<path stroke="#f9a832" d="M247 987.1V993.7M244.5 987.1h5M244.5 993.7h5M276 1013.4V1025.2M273.5 1013.4h5M273.5 1025.2h5M319.6 1068.9V1078.8M317.1 1068.9h5M317.1 1078.8h5"/>
<path stroke="#c1272d" d="M276 1000.5V1007.8M273.5 1000.5h5M273.5 1007.8h5M319.6 1021.9V1037.6M317.1 1021.9h5M317.1 1037.6h5"/>
<path stroke="#111" d="M247 955V962.4M244.5 955h5M244.5 962.4h5M276 966.7V971.8M273.5 966.7h5M273.5 971.8h5M319.6 978.9V984.8M317.1 978.9h5M317.1 984.8h5"/>
</g>
<g fill="#4a9cd6"><circle cx="188.9" cy="963.6" r="3.5"/><circle cx="217.9" cy="982.9" r="3.5"/><circle cx="247" cy="1002.4" r="3.5"/><circle cx="276" cy="1052.9" r="3.5"/><circle cx="319.6" cy="1132.1" r="3.5"/></g>
<g fill="#f9a832"><circle cx="188.9" cy="960.8" r="3.5"/><circle cx="217.9" cy="978.9" r="3.5"/><circle cx="247" cy="990.2" r="3.5"/><circle cx="276" cy="1019.3" r="3.5"/><circle cx="319.6" cy="1073.3" r="3.5"/></g>
<g fill="#c1272d"><circle cx="188.9" cy="958.4" r="3.5"/><circle cx="217.9" cy="973" r="3.5"/><circle cx="247" cy="981.2" r="3.5"/><circle cx="276" cy="1004" r="3.5"/><circle cx="319.6" cy="1029.4" r="3.5"/></g>
<g fill="#111"><circle cx="101.7" cy="958.9" r="3.7"/><circle cx="188.9" cy="957" r="3.5"/><circle cx="217.9" cy="958.9" r="3.5"/><circle cx="247" cy="958.9" r="3.5"/><circle cx="276" cy="969" r="3.5"/><circle cx="319.6" cy="981.2" r="3.5"/></g>
<text class="lt" x="109.2" y="1064">HAP1 + dox</text>
<line x1="110" x2="128" y1="1078.3" y2="1078.3" stroke="#111" stroke-width="2.6"/>
<line x1="110" x2="128" y1="1103" y2="1103" stroke="#c1272d" stroke-width="2.6"/>
<line x1="110" x2="128" y1="1126.5" y2="1126.5" stroke="#f9a832" stroke-width="2.6"/>
<line x1="110" x2="128" y1="1149.3" y2="1149.3" stroke="#4a9cd6" stroke-width="2.6"/>
<text class="lg" x="136.3" y="1084.3">WT</text>
<text class="lg" x="136.3" y="1109"><tspan class="it">CSB</tspan><tspan font-size="10.5" dy="-7">−/−</tspan><tspan dy="7"> + WT</tspan></text>
<text class="lg" x="136.3" y="1132.5"><tspan class="it">CSB</tspan><tspan font-size="10.5" dy="-7">−/−</tspan><tspan dy="7"> + K538R</tspan></text>
<text class="lg" x="136.3" y="1155.3"><tspan class="it">CSB</tspan><tspan font-size="10.5" dy="-7">−/−</tspan><tspan dy="7"> + EV</tspan></text>

<!-- ================= PANEL H ================= -->
<path d="M500 950.7V1174M491 1166.4H718M572.6 1166.4V1174M645.3 1166.4V1174M718 1166.4V1174M491 958.9H500M491 1062.7H500" stroke="#111" stroke-width="1.2" fill="none"/>
<g text-anchor="end" class="tk"><text x="483.5" y="964.9">100</text><text x="483.5" y="1068.7">10</text><text x="483.5" y="1172.4">1</text></g>
<g text-anchor="middle" class="tk"><text x="500" y="1195">0</text><text x="572.6" y="1195">100</text><text x="645.3" y="1195">200</text><text x="718" y="1195">300</text></g>
<text class="ax" transform="translate(439.5,1058.8) rotate(-90)" text-anchor="middle">Survival (%)</text>
<text class="ax" x="609" y="1224" text-anchor="middle" textLength="126" lengthAdjust="spacingAndGlyphs">5-aza-dC (nM)</text>
<g fill="none" stroke-width="2.2" stroke-linejoin="round">
<polyline stroke="#4a9cd6" points="500,958.9 536.3,969.5 572.6,988.3 609,1020.5 645.3,1048.7 718,1138.7"/>
<polyline stroke="#f9a832" points="500,958.9 536.3,966 572.6,982 609,1007 645.3,1027 718,1102.3"/>
<polyline stroke="#c1272d" points="500,958.9 536.3,962 572.6,969 609,983.1 645.3,993 718,1053.6"/>
<polyline stroke="#111" points="500,958.9 536.3,962.9 572.6,972.5 609,978.2 645.3,989.5 718,1025.4"/>
</g>
<g fill="none" stroke-width="1.1">
<path stroke="#4a9cd6" d="M609 1014.1V1029M606.5 1014.1h5M606.5 1029h5M645.3 1045.9V1052.2M642.8 1045.9h5M642.8 1052.2h5M718 1130V1149.3M715.5 1130h5M715.5 1149.3h5"/>
<path stroke="#f9a832" d="M609 1001.2V1013M606.5 1001.2h5M606.5 1013h5M645.3 1021.2V1033.4M642.8 1021.2h5M642.8 1033.4h5M718 1096.8V1108.6M715.5 1096.8h5M715.5 1108.6h5"/>
<path stroke="#c1272d" d="M536.3 957.5V966M533.8 957.5h5M572.6 966V971.8M570.1 966h5M609 978.9V987.1M606.5 987.1h5M645.3 989.5V995.8M718 1050.6V1057.6M715.5 1050.6h5M715.5 1057.6h5"/>
<path stroke="#111" d="M572.6 966.4V980M570.1 966.4h5M570.1 980h5M609 972.3V986M606.5 972.3h5M606.5 986h5M645.3 984.3V994.9M642.8 984.3h5M642.8 994.9h5M718 1017.7V1033.6M715.5 1017.7h5M715.5 1033.6h5"/>
</g>
<g fill="#4a9cd6"><circle cx="536.3" cy="969.5" r="3.5"/><circle cx="572.6" cy="988.3" r="3.5"/><circle cx="609" cy="1020.5" r="3.5"/><circle cx="645.3" cy="1048.7" r="3.5"/><circle cx="718" cy="1138.7" r="3.5"/></g>
<g fill="#f9a832"><circle cx="536.3" cy="966" r="3.5"/><circle cx="572.6" cy="982" r="3.5"/><circle cx="609" cy="1007" r="3.5"/><circle cx="645.3" cy="1027" r="3.5"/><circle cx="718" cy="1102.3" r="3.5"/></g>
<g fill="#c1272d"><circle cx="536.3" cy="962" r="3.5"/><circle cx="572.6" cy="969" r="3.5"/><circle cx="609" cy="983.1" r="3.5"/><circle cx="645.3" cy="993" r="3.5"/><circle cx="718" cy="1053.6" r="3.5"/></g>
<g fill="#111"><circle cx="500" cy="958.9" r="3.7"/><circle cx="536.3" cy="962.9" r="3.5"/><circle cx="572.6" cy="972.5" r="3.5"/><circle cx="609" cy="978.2" r="3.5"/><circle cx="645.3" cy="989.5" r="3.5"/><circle cx="718" cy="1025.4" r="3.5"/></g>
<text class="lt" x="510" y="1064">HAP1 + dox</text>
<line x1="511" x2="528.6" y1="1078.3" y2="1078.3" stroke="#111" stroke-width="2.6"/>
<line x1="511" x2="528.6" y1="1103" y2="1103" stroke="#c1272d" stroke-width="2.6"/>
<line x1="511" x2="528.6" y1="1126.5" y2="1126.5" stroke="#f9a832" stroke-width="2.6"/>
<line x1="511" x2="528.6" y1="1149.3" y2="1149.3" stroke="#4a9cd6" stroke-width="2.6"/>
<text class="lg" x="537" y="1084.3">WT</text>
<text class="lg" x="537" y="1109"><tspan class="it">CSB</tspan><tspan font-size="10.5" dy="-7">−/−</tspan><tspan dy="7"> + WT</tspan></text>
<text class="lg" x="537" y="1132.5"><tspan class="it">CSB</tspan><tspan font-size="10.5" dy="-7">−/−</tspan><tspan dy="7"> + K538R</tspan></text>
<text class="lg" x="537" y="1155.3"><tspan class="it">CSB</tspan><tspan font-size="10.5" dy="-7">−/−</tspan><tspan dy="7"> + EV</tspan></text>

<!-- ================= PANEL I ================= -->
<path d="M884.3 951.4V1174M877 1166.4H1103M957.4 1166.4V1174M1030.1 1166.4V1174M1103 1166.4V1174M877 955.5H884.3M877 1025.8H884.3M877 1096.1H884.3" stroke="#111" stroke-width="1.2" fill="none"/>
<g text-anchor="end" class="tk"><text x="867.2" y="961.5">100.0</text><text x="867.2" y="1031.8">10.0</text><text x="867.2" y="1102.1">1.0</text><text x="867.2" y="1172.4">0.1</text></g>
<g text-anchor="middle" class="tk"><text x="884.3" y="1195">0</text><text x="957.4" y="1195">50</text><text x="1030.1" y="1195">100</text><text x="1103" y="1195">150</text></g>
<text class="ax" transform="translate(815.5,1058.8) rotate(-90)" text-anchor="middle">Survival (%)</text>
<text class="ax" x="1006.9" y="1224" text-anchor="middle">Illudin S (pg ml<tspan font-size="11" dy="-8">−1</tspan><tspan dy="8">)</tspan></text>
<g fill="none" stroke-width="2.2" stroke-linejoin="round">
<polyline stroke="#4a9cd6" points="884.3,956 920.9,962 957.4,980.1 1030.1,1095.2 1103,1099.9"/>
<polyline stroke="#f9a832" points="884.3,956 920.9,959 957.4,963.1 1030.1,989 1103,1053.4"/>
<polyline stroke="#c1272d" points="884.3,956 920.9,957.7 957.4,958.4 993.8,962.5 1103,974.2"/>
<polyline stroke="#111" points="884.3,956 920.9,958.4 957.4,957.7 993.8,960 1030.1,960.8 1103,960"/>
</g>
<g fill="none" stroke-width="1.1">
<path stroke="#4a9cd6" d="M920.9 958.9V967.1M918.4 967.1h5M957.4 968.8V999.3M954.9 968.8h5M954.9 999.3h5M1030.1 1085.8V1109.3M1027.6 1085.8h5M1027.6 1109.3h5M1103 1088.2V1118.7M1100.5 1088.2h5M1100.5 1118.7h5"/>
<path stroke="#f9a832" d="M1030.1 977.7V1008.3M1027.6 977.7h5M1027.6 1008.3h5M1103 1041.1V1073.3M1100.5 1041.1h5M1100.5 1073.3h5"/>
<path stroke="#c1272d" d="M1103 967.1V984.3M1100.5 967.1h5M1100.5 984.3h5"/>
<path stroke="#111" d="M1103 958.4V962.4M1100.5 962.4h5"/>
</g>
<g fill="#4a9cd6"><circle cx="920.9" cy="962" r="3.4"/><circle cx="957.4" cy="980.1" r="3.4"/><circle cx="1030.1" cy="1095.2" r="3.4"/><circle cx="1103" cy="1099.9" r="3.4"/></g>
<g fill="#f9a832"><circle cx="920.9" cy="959" r="3.4"/><circle cx="957.4" cy="963.1" r="3.4"/><circle cx="1030.1" cy="989" r="3.4"/><circle cx="1103" cy="1053.4" r="3.4"/></g>
<g fill="#c1272d"><circle cx="920.9" cy="957.7" r="3.4"/><circle cx="957.4" cy="958.4" r="3.4"/><circle cx="993.8" cy="964.8" r="3.4"/><circle cx="1103" cy="974.2" r="3.4"/></g>
<g fill="#111"><circle cx="884.3" cy="956" r="3.6"/><circle cx="920.9" cy="958.4" r="3.4"/><circle cx="957.4" cy="957.7" r="3.4"/><circle cx="993.8" cy="960" r="3.4"/><circle cx="1103" cy="960" r="3.4"/></g>
<text class="lt" x="892" y="1064">HAP1 + dox</text>
<line x1="892.2" x2="910.4" y1="1078.3" y2="1078.3" stroke="#111" stroke-width="2.4"/>
<line x1="892.2" x2="910.4" y1="1103" y2="1103" stroke="#c1272d" stroke-width="2.4"/>
<line x1="892.2" x2="910.4" y1="1125.8" y2="1125.8" stroke="#f9a832" stroke-width="2.4"/>
<line x1="892.2" x2="910.4" y1="1149.3" y2="1149.3" stroke="#4a9cd6" stroke-width="2.4"/>
<text class="lg" x="919.1" y="1084.3">WT</text>
<text class="lg" x="919.1" y="1109"><tspan class="it">CSB</tspan><tspan font-size="10.5" dy="-7">−/−</tspan><tspan dy="7"> + WT</tspan></text>
<text class="lg" x="919.1" y="1132"><tspan class="it">CSB</tspan><tspan font-size="10.5" dy="-7">−/−</tspan><tspan dy="7"> + K538R</tspan></text>
<text class="lg" x="919.1" y="1155.3"><tspan class="it">CSB</tspan><tspan font-size="10.5" dy="-7">−/−</tspan><tspan dy="7"> + EV</tspan></text>

<!-- ================= PANEL J ================= -->
<path d="M101.7 1286V1512M92.7 1504H320.6M174.3 1504V1512M248 1504V1512M320.6 1504V1512M92.7 1292H101.7M92.7 1362.6H101.7M92.7 1433.2H101.7" stroke="#111" stroke-width="1.2" fill="none"/>
<g text-anchor="end" class="tk"><text x="84" y="1298">100.0</text><text x="84" y="1368.6">10.0</text><text x="84" y="1439.2">1.0</text><text x="84" y="1510">0.1</text></g>
<g text-anchor="middle" class="tk"><text x="101.7" y="1534.5">0</text><text x="174.3" y="1534.5">25</text><text x="248" y="1534.5">50</text><text x="320.6" y="1534.5">75</text></g>
<text class="ax" transform="translate(33.5,1395.2) rotate(-90)" text-anchor="middle">Survival (%)</text>
<text class="ax" x="210.9" y="1563" text-anchor="middle" textLength="176" lengthAdjust="spacingAndGlyphs">Formaldehyde (µM)</text>
<g fill="none" stroke-width="1.5" stroke-linejoin="round">
<polyline stroke="#4a9cd6" points="101.7,1292 127.8,1290.8 142.8,1295.6 165.8,1296.8 198.4,1316.4 248,1356 320.6,1468"/>
<polyline stroke="#e8509c" points="101.7,1292 127.8,1292 142.8,1297 165.8,1294.4 198.4,1300.3 248,1304.6 320.6,1350"/>
<polyline stroke="#111" points="101.7,1292 127.8,1292.7 142.8,1294.6 165.8,1292.3 198.4,1298.7 248,1303.9 320.6,1351.9"/>
</g>
<g fill="none" stroke-width="1.1">
<path stroke="#4a9cd6" d="M248 1350.8V1361.9M245.5 1350.8h5M245.5 1361.9h5M320.6 1446.7V1468M318.1 1446.7h5"/>
<path stroke="#e8509c" d="M127.8 1288.5V1295.1M125.3 1288.5h5M248 1301V1309.3M245.5 1309.3h5M320.6 1338.2V1369.7M318.1 1338.2h5M318.1 1369.7h5"/>
<path stroke="#111" d="M127.8 1289.2V1295.1M248 1301V1307M320.6 1343V1363.8M318.1 1343h5M318.1 1363.8h5"/>
</g>
<g fill="#4a9cd6"><circle cx="127.8" cy="1290.8" r="3"/><circle cx="142.8" cy="1295.6" r="3"/><circle cx="165.8" cy="1296.8" r="3"/><circle cx="198.4" cy="1316.4" r="3"/><circle cx="248" cy="1356" r="3"/><circle cx="320.6" cy="1468" r="3"/></g>
<g fill="#e8509c"><circle cx="127.8" cy="1292" r="3"/><circle cx="142.8" cy="1297" r="3"/><circle cx="165.8" cy="1294.4" r="3"/><circle cx="198.4" cy="1300.3" r="3"/><circle cx="248" cy="1304.6" r="3"/><circle cx="320.6" cy="1350" r="3"/></g>
<g fill="#111"><circle cx="101.7" cy="1292" r="3.2"/><circle cx="127.8" cy="1292.7" r="3"/><circle cx="142.8" cy="1294.6" r="3"/><circle cx="165.8" cy="1292.3" r="3"/><circle cx="198.4" cy="1298.7" r="3"/><circle cx="248" cy="1303.9" r="3"/><circle cx="320.6" cy="1351.9" r="3"/></g>
<text class="lt" x="114.2" y="1430">RPE1</text>
<line x1="115" x2="132.8" y1="1443.9" y2="1443.9" stroke="#111" stroke-width="1.8"/>
<line x1="115" x2="132.8" y1="1466.1" y2="1466.1" stroke="#e8509c" stroke-width="1.8"/>
<line x1="115" x2="132.8" y1="1489.4" y2="1489.4" stroke="#4a9cd6" stroke-width="1.8"/>
<text class="lg" x="141.3" y="1449.9">WT</text>
<text class="lg it" x="141.3" y="1472.1">XPC<tspan font-size="10.5" dy="-7">−/−</tspan></text>
<text class="lg it" x="141.3" y="1495.4">XPC<tspan font-size="10.5" dy="-7">−/−</tspan><tspan dy="7">XPA</tspan><tspan font-size="10.5" dy="-7">−/−</tspan></text>

<!-- ================= PANEL K ================= -->
<path d="M500 1288V1512M491 1504.8H720M610.2 1504.8V1512M720 1504.8V1512M491 1294.4H500" stroke="#111" stroke-width="1.2" fill="none"/>
<g text-anchor="end" class="tk"><text x="483.5" y="1300.4">100</text><text x="483.5" y="1510.8">10</text></g>
<g text-anchor="middle" class="tk"><text x="500" y="1534.5">0</text><text x="610.2" y="1534.5">5</text><text x="720" y="1534.5">10</text></g>
<text class="ax" transform="translate(441.5,1395.2) rotate(-90)" text-anchor="middle">Survival (%)</text>
<text class="ax" x="609.6" y="1563" text-anchor="middle" textLength="125" lengthAdjust="spacingAndGlyphs">5-aza-dC (µM)</text>
<g fill="none" stroke-width="1.5" stroke-linejoin="round">
<polyline stroke="#4a9cd6" points="500,1293.9 503.4,1301 506.9,1335.8 513,1338.9 527.5,1369.2 554.6,1368.5 610.2,1398.2 720,1404.1"/>
<polyline stroke="#e8509c" points="500,1295.1 503.4,1304.6 506.9,1333 513,1335.4 527.5,1363.3 554.6,1373.7 610.2,1401.2 720,1401"/>
<polyline stroke="#111" points="500,1294.4 503.4,1298.2 506.9,1327.8 513,1327.8 527.5,1360.7 554.6,1368 610.2,1398.9 720,1409.3"/>
</g>
<g fill="none" stroke-width="1.1">
<path stroke="#4a9cd6" d="M500 1291V1297.5M503.4 1292.7V1315.2M506.9 1331.8V1338.9M513 1323.5V1358.6M510.5 1358.6h5M527.5 1366.2V1372.1M525 1366.2h5M554.6 1359V1379.2M552.1 1379.2h5M610.2 1391V1407.6M607.7 1391h5M607.7 1407.6h5M720 1398.2V1408.8"/>
<path stroke="#e8509c" d="M503.4 1296.3V1314M513 1328.3V1343.7M527.5 1360.2V1367.4M554.6 1354.3V1397.4M552.1 1354.3h5M552.1 1397.4h5M610.2 1398.2V1406.4M720 1389.1V1414.7M717.5 1389.1h5M717.5 1414.7h5"/>
<path stroke="#111" d="M500 1290V1299M497.5 1290h5M503.4 1289.9V1314M500.9 1289.9h5M506.9 1323V1333M513 1316.4V1341.3M510.5 1316.4h5M527.5 1349.6V1365M525 1349.6h5M554.6 1356.7V1378M552.1 1356.7h5M610.2 1395.3V1402.4M720 1400.5V1419M717.5 1400.5h5M717.5 1419h5"/>
</g>
<g fill="#4a9cd6"><circle cx="500" cy="1293.9" r="3"/><circle cx="503.4" cy="1301" r="3"/><circle cx="506.9" cy="1335.8" r="3"/><circle cx="513" cy="1338.9" r="3"/><circle cx="527.5" cy="1369.2" r="3"/><circle cx="554.6" cy="1368.5" r="3"/><circle cx="610.2" cy="1398.2" r="3"/><circle cx="720" cy="1404.1" r="3"/></g>
<g fill="#e8509c"><circle cx="503.4" cy="1304.6" r="3"/><circle cx="506.9" cy="1333" r="3"/><circle cx="513" cy="1335.4" r="3"/><circle cx="527.5" cy="1363.3" r="3"/><circle cx="554.6" cy="1373.7" r="3"/><circle cx="610.2" cy="1401.2" r="3"/><circle cx="720" cy="1401" r="3"/></g>
<g fill="#111"><circle cx="500" cy="1294.4" r="3.2"/><circle cx="503.4" cy="1298.2" r="3"/><circle cx="506.9" cy="1327.8" r="3"/><circle cx="513" cy="1327.8" r="3"/><circle cx="527.5" cy="1360.7" r="3"/><circle cx="554.6" cy="1368" r="3"/><circle cx="610.2" cy="1398.9" r="3"/><circle cx="720" cy="1409.3" r="3"/></g>
<text class="lt" x="513.5" y="1430">RPE1</text>
<line x1="514.5" x2="532" y1="1443.9" y2="1443.9" stroke="#111" stroke-width="1.8"/>
<line x1="514.5" x2="532" y1="1466.1" y2="1466.1" stroke="#e8509c" stroke-width="1.8"/>
<line x1="514.5" x2="532" y1="1489.4" y2="1489.4" stroke="#4a9cd6" stroke-width="1.8"/>
<text class="lg" x="540" y="1449.9">WT</text>
<text class="lg it" x="540" y="1472.1">XPC<tspan font-size="10.5" dy="-7">−/−</tspan></text>
<text class="lg it" x="540" y="1495.4">XPC<tspan font-size="10.5" dy="-7">−/−</tspan><tspan dy="7">XPA</tspan><tspan font-size="10.5" dy="-7">−/−</tspan></text>

<!-- ================= PANEL L ================= -->
<path d="M884.3 1288V1512M877 1504.8H1104M994 1504.8V1512M1104 1504.8V1512M877 1292H884.3M877 1362.8H884.3M877 1433.6H884.3" stroke="#111" stroke-width="1.2" fill="none"/>
<g text-anchor="end" class="tk"><text x="867.2" y="1298">100.0</text><text x="867.2" y="1368.8">10.0</text><text x="867.2" y="1439.6">1.0</text><text x="867.2" y="1510.4">0.1</text></g>
<g text-anchor="middle" class="tk"><text x="884.3" y="1534.5">0</text><text x="994" y="1534.5">400</text><text x="1104" y="1534.5">800</text></g>
<text class="ax" transform="translate(815.5,1395.2) rotate(-90)" text-anchor="middle">Survival (%)</text>
<text class="ax" x="994.7" y="1562" text-anchor="middle">Illudin S (pg ml<tspan font-size="11" dy="-8">−1</tspan><tspan dy="8">)</tspan></text>
<g fill="none" stroke-width="1.5" stroke-linejoin="round">
<polyline stroke="#4a9cd6" points="884.3,1292 891.4,1293.2 898.3,1306.9 911.7,1305 939.4,1338.9 994,1411.2"/>
<polyline stroke="#e8509c" points="884.3,1292 891.4,1290.8 898.3,1295.1 911.7,1290.8 939.4,1296.8 994,1293.9 1104,1301.7"/>
<polyline stroke="#111" points="884.3,1292 891.4,1289.2 898.3,1291.5 911.7,1288.7 939.4,1292.7 994,1291 1104,1298.7"/>
</g>
<g fill="none" stroke-width="1.1">
<path stroke="#4a9cd6" d="M891.4 1290.8V1295.1M888.9 1295.1h5M911.7 1301V1309.3M909.2 1301h5M909.2 1309.3h5M994 1391.5V1472.8M991.5 1391.5h5M991.5 1472.8h5"/>
<path stroke="#e8509c" d="M911.7 1288V1293.2M909.2 1293.2h5"/>
</g>
<g fill="#4a9cd6"><circle cx="891.4" cy="1293.2" r="3"/><circle cx="898.3" cy="1306.9" r="3"/><circle cx="911.7" cy="1305" r="3"/><circle cx="939.4" cy="1338.9" r="3"/><circle cx="994" cy="1411.2" r="3"/></g>
<g fill="#e8509c"><circle cx="898.3" cy="1295.1" r="3"/><circle cx="911.7" cy="1290.8" r="3"/><circle cx="939.4" cy="1296.8" r="3"/><circle cx="994" cy="1293.9" r="3"/><circle cx="1104" cy="1301.7" r="3"/></g>
<g fill="#111"><circle cx="884.3" cy="1292" r="3.2"/><circle cx="891.4" cy="1289.2" r="3"/><circle cx="898.3" cy="1291.5" r="3"/><circle cx="911.7" cy="1288.7" r="3"/><circle cx="939.4" cy="1292.7" r="3"/><circle cx="994" cy="1291" r="3"/><circle cx="1104" cy="1298.7" r="3"/></g>
<text class="lt" x="896.7" y="1430">RPE1</text>
<line x1="896.7" x2="914.1" y1="1444.3" y2="1444.3" stroke="#111" stroke-width="1.8"/>
<line x1="896.7" x2="914.1" y1="1465.7" y2="1465.7" stroke="#e8509c" stroke-width="1.8"/>
<line x1="896.7" x2="914.1" y1="1489.4" y2="1489.4" stroke="#4a9cd6" stroke-width="1.8"/>
<text class="lg" x="921.8" y="1450.3">WT</text>
<text class="lg it" x="921.8" y="1471.7">XPC<tspan font-size="10.5" dy="-7">−/−</tspan></text>
<text class="lg it" x="921.8" y="1495.4">XPC<tspan font-size="10.5" dy="-7">−/−</tspan><tspan dy="7">XPA</tspan><tspan font-size="10.5" dy="-7">−/−</tspan></text>
</svg>
</body></html>
